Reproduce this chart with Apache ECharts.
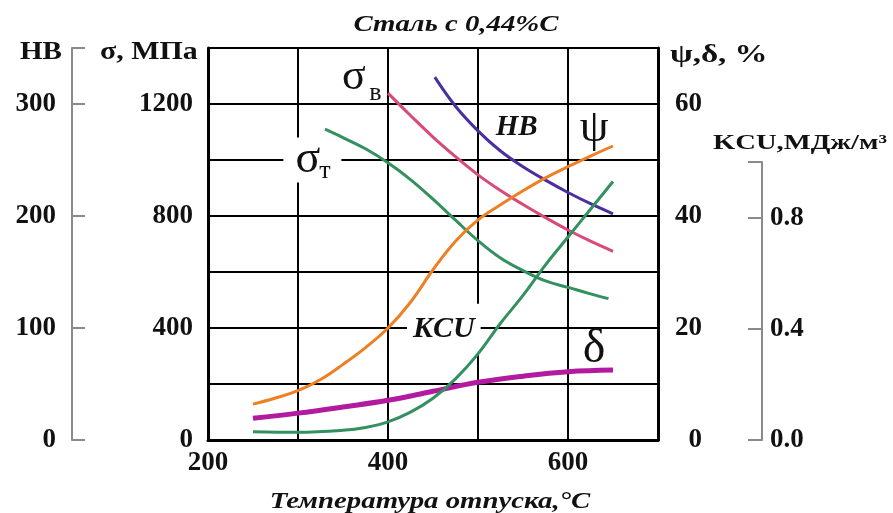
<!DOCTYPE html>
<html>
<head>
<meta charset="utf-8">
<script src="https://cdn.jsdelivr.net/npm/echarts@6/dist/echarts.min.js"></script>
<style>
  html, body { margin: 0; padding: 0; background: #fff; }
  #chart { width: 893px; height: 513px; }
</style>
</head>
<body>
<div id="chart"></div>
<script>
// Tempering temperature, °C, for each curve
const tSigmaB = [400, 425, 450, 475, 500, 525, 550, 575, 600, 625, 650];
const sigmaB  = [1239, 1159, 1082, 1012, 947, 891, 841, 794, 750, 710, 674];   // МПа

const tSigmaT = [330, 350, 375, 400, 425, 450, 475, 500, 525, 550, 575, 600, 625, 645];
const sigmaT  = [1110, 1080, 1040, 990, 930, 860, 785, 712, 650, 605, 568, 545, 522, 505]; // МПа

const tHB = [452, 475, 500, 525, 550, 575, 600, 625, 650];
const hb  = [324, 298, 276, 258, 244, 232, 221, 211, 202];

const tPsi = [250, 275, 300, 325, 350, 375, 400, 425, 450, 475, 500, 525, 550, 575, 600, 625, 650];
const psi  = [6.4, 7.5, 8.8, 10.8, 13.5, 16.5, 20, 24.6, 30.4, 35.5, 39.3, 42.0, 44.5, 46.8, 48.8, 50.7, 52.5]; // %

const tDelta = [250, 300, 350, 400, 450, 500, 550, 600, 650];
const delta  = [3.9, 4.8, 5.9, 7.1, 8.7, 10.3, 11.4, 12.2, 12.5]; // %

const tKCU = [250, 300, 350, 375, 400, 425, 450, 475, 500, 525, 550, 575, 600, 625, 650];
const kcu  = [0.03, 0.028, 0.035, 0.045, 0.065, 0.10, 0.15, 0.22, 0.31, 0.42, 0.52, 0.63, 0.73, 0.83, 0.93]; // МДж/м²

// Tick labels shown on each axis
const xTicks     = [200, 400, 600];
const sigmaTicks = [0, 400, 800, 1200];
const hbTicks    = [0, 100, 200, 300];
const psiTicks   = [0, 20, 40, 60];
const kcuTicks   = [0.0, 0.4, 0.8];

const FONT = 'Liberation Serif';
const pairs = (xs, ys) => xs.map((x, i) => [x, ys[i]]);
const pick = (list) => (v) => list.some(t => Math.abs(t - v) < 1e-6) ? String(v) : '';

const tickLabel = { fontFamily: FONT, fontWeight: 'bold', fontSize: 27, color: '#111' };

// Invisible anchor carrying a text label at a data position
function tag(coord, text, style) {
  return {
    coord: coord,
    symbol: 'rect',
    symbolSize: 1,
    itemStyle: { color: 'rgba(0,0,0,0)' },
    label: Object.assign({ show: true, position: 'inside', formatter: text,
      fontFamily: FONT, color: '#111' }, style)
  };
}
// Labels sit above the grid but beneath the curves
function tags(list) {
  return { silent: true, animation: false, z: 1, data: list };
}

// Stretched free text (titles and axis captions)
function caption(text, x, y, align, size, scaleX, extra) {
  return {
    type: 'text', x: x, y: y, scaleX: scaleX,
    style: Object.assign({ text: text, x: 0, y: 0, align: align, verticalAlign: 'middle',
      fontFamily: FONT, fontWeight: 'bold', fontSize: size, fill: '#111' }, extra || {})
  };
}

const lineBase = { type: 'line', smooth: 0.4, showSymbol: false, symbol: 'none', animation: false };
const plotBox = { left: 208, right: 235, bottom: 73 };

const chart = echarts.init(document.getElementById('chart'), null, { renderer: 'canvas' });
chart.setOption({
  backgroundColor: '#fff',
  animation: false,
  grid: [
    Object.assign({ top: 48 }, plotBox),   // main plot frame
    Object.assign({ top: 162 }, plotBox)   // shorter frame carrying the KCU scale
  ],
  xAxis: [
    {
      gridIndex: 0, type: 'value', min: 200, max: 700, interval: 100,
      axisLine: { lineStyle: { color: '#000', width: 3 } },
      axisTick: { show: false },
      axisLabel: Object.assign({ margin: 10, formatter: pick(xTicks) }, tickLabel),
      splitLine: { show: true, lineStyle: { color: '#000', width: 2 } }
    },
    {
      gridIndex: 1, type: 'value', min: 200, max: 700, interval: 100,
      axisLine: { show: false }, axisTick: { show: false },
      axisLabel: { show: false }, splitLine: { show: false }
    }
  ],
  yAxis: [
    { // σ, МПа
      gridIndex: 0, type: 'value', position: 'left', min: 0, max: 1400, interval: 200,
      axisLine: { show: true, lineStyle: { color: '#000', width: 3 } },
      axisTick: { show: false },
      axisLabel: Object.assign({ margin: 15, formatter: pick(sigmaTicks) }, tickLabel),
      splitLine: { show: true, lineStyle: { color: '#000', width: 2 } }
    },
    { // HB
      gridIndex: 0, type: 'value', position: 'left', offset: 136, min: 0, max: 350, interval: 100,
      axisLine: { show: true, lineStyle: { color: '#8a8a8a', width: 2 } },
      axisTick: { show: true, inside: true, length: 13, lineStyle: { color: '#8a8a8a', width: 2 } },
      axisLabel: Object.assign({ margin: 16, formatter: pick(hbTicks) }, tickLabel),
      splitLine: { show: false }
    },
    { // ψ, δ, %
      gridIndex: 0, type: 'value', position: 'right', min: 0, max: 70, interval: 10,
      axisLine: { show: true, lineStyle: { color: '#000', width: 3 } },
      axisTick: { show: false },
      axisLabel: Object.assign({ margin: 44, align: 'right', formatter: pick(psiTicks) }, tickLabel),
      splitLine: { show: false }
    },
    { // KCU, МДж/м²
      gridIndex: 1, type: 'value', position: 'right', offset: 104, min: 0, max: 1.0, interval: 0.4,
      axisLine: { show: true, lineStyle: { color: '#8a8a8a', width: 2 } },
      axisTick: { show: true, inside: true, length: 14, lineStyle: { color: '#8a8a8a', width: 2 } },
      axisLabel: Object.assign({ margin: 8,
        formatter: (v) => kcuTicks.some(t => Math.abs(t - v) < 1e-6) ? v.toFixed(1) : '' }, tickLabel),
      splitLine: { show: false }
    }
  ],
  graphic: [
    caption('Сталь с 0,44%С', 456, 25, 'center', 24, 1.2, { fontStyle: 'italic' }),
    caption('Температура отпуска,°С', 430, 502, 'center', 24, 1.2, { fontStyle: 'italic' }),
    caption('HB', 62, 52, 'right', 26, 1.12),
    caption('σ, МПа', 100, 52, 'left', 26, 1.15),
    caption('ψ,δ, %', 670, 55, 'left', 26, 1.27),
    caption('KCU,МДж/м³', 713, 143, 'left', 22, 1.3)
  ],
  series: [
    Object.assign({}, lineBase, {
      name: 'σв', xAxisIndex: 0, yAxisIndex: 0, data: pairs(tSigmaB, sigmaB),
      lineStyle: { color: '#d84a7a', width: 3 },
      markPoint: tags([
        tag([362, 1296], 'σ', { fontSize: 44 }),
        tag([386, 1240], 'в', { fontSize: 26 })
      ])
    }),
    Object.assign({}, lineBase, {
      name: 'σт', xAxisIndex: 0, yAxisIndex: 0, data: pairs(tSigmaT, sigmaT),
      lineStyle: { color: '#33905f', width: 3 },
      markPoint: tags([
        tag([316, 1000], ' ', { backgroundColor: '#fff', width: 58, height: 45 }),
        tag([311, 1002], 'σ', { fontSize: 46 }),
        tag([330, 960], 'т', { fontSize: 26 })
      ])
    }),
    Object.assign({}, lineBase, {
      name: 'HB', xAxisIndex: 0, yAxisIndex: 1, data: pairs(tHB, hb),
      lineStyle: { color: '#4b2f9e', width: 3 },
      markPoint: tags([
        tag([543, 279], 'HB', { fontSize: 29, fontStyle: 'italic', fontWeight: 'bold' })
      ])
    }),
    Object.assign({}, lineBase, {
      name: 'ψ', xAxisIndex: 0, yAxisIndex: 2, data: pairs(tPsi, psi),
      lineStyle: { color: '#ee7f22', width: 3 },
      markPoint: tags([
        tag([629, 55.6], 'ψ', { fontSize: 46 })
      ])
    }),
    Object.assign({}, lineBase, {
      name: 'δ', xAxisIndex: 0, yAxisIndex: 2, data: pairs(tDelta, delta),
      lineStyle: { color: '#b21aa0', width: 5 },
      markPoint: tags([
        tag([629, 16.2], 'δ', { fontSize: 48 })
      ])
    }),
    Object.assign({}, lineBase, {
      name: 'KCU', xAxisIndex: 1, yAxisIndex: 3, data: pairs(tKCU, kcu),
      lineStyle: { color: '#33905f', width: 3 },
      markPoint: tags([
        tag([462, 0.40], 'KCU', { fontSize: 30, fontStyle: 'italic', fontWeight: 'bold',
          backgroundColor: '#fff', padding: [10, 6, 10, 6] })
      ])
    })
  ]
});
</script>
</body>
</html>
